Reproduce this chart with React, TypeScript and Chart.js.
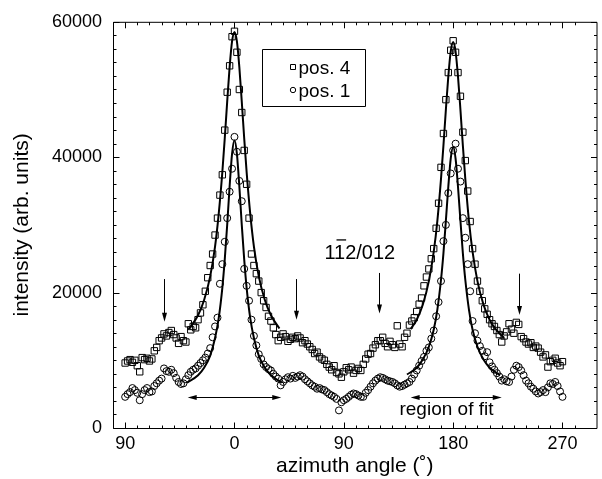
import React, { useEffect, useRef } from "react";
import { Chart, registerables } from "chart.js";

Chart.register(...registerables);

// ---------- data ----------
const seriesLabels = ["pos. 4", "pos. 1"];

const angles = [
  -90, -88, -86, -84, -82, -80, -78, -76, -74, -72,
  -70, -68, -66, -64, -62, -60, -58, -56, -54, -52,
  -50, -48, -46, -44, -42, -40, -38, -36, -34, -32,
  -30, -28, -26, -24, -22, -20, -18, -16, -14, -12,
  -10, -8, -6, -4, -2, 0, 2, 4, 6, 8,
  10, 12, 14, 16, 18, 20, 22, 24, 26, 28,
  30, 32, 34, 36, 38, 40, 42, 44, 46, 48,
  50, 52, 54, 56, 58, 60, 62, 64, 66, 68,
  70, 72, 74, 76, 78, 80, 82, 84, 86, 88,
  90, 92, 94, 96, 98, 100, 102, 104, 106, 108,
  110, 112, 114, 116, 118, 120, 122, 124, 126, 128,
  130, 132, 134, 136, 138, 140, 142, 144, 146, 148,
  150, 152, 154, 156, 158, 160, 162, 164, 166, 168,
  170, 172, 174, 176, 178, 180, 182, 184, 186, 188,
  190, 192, 194, 196, 198, 200, 202, 204, 206, 208,
  210, 212, 214, 216, 218, 220, 222, 224, 226, 228,
  230, 232, 234, 236, 238, 240, 242, 244, 246, 248,
  250, 252, 254, 256, 258, 260, 262, 264, 266, 268,
  270,
];

const pos4Values = [
  9600, 9900, 10100, 9700, 10000, 9200, 8300, 10400, 10100, 10300,
  9900, 10200, 11400, 11900, 12900, 13300, 13900, 13600, 14100, 14400,
  13800, 13300, 12500, 13500, 12900, 12700, 15400, 14500, 15000, 14800,
  16000, 17000, 18200, 20200, 22200, 24000, 25700, 28500, 31000, 34400,
  37400, 44000, 49600, 53500, 57800, 58600, 55500, 50000, 46600, 41000,
  36000, 31000, 25700, 24000, 22800, 21700, 20000, 18800, 17800, 16500,
  15800, 14800, 13800, 12900, 13400, 13900, 13500, 12800, 13100, 13400,
  13200, 13600, 13300, 12600, 12900, 12400, 12000, 11600, 11000, 11200,
  10500, 10200, 10000, 9400, 9000, 8600, 9200, 8200, 8000, 7500,
  8300, 8900, 8600, 9000, 8100, 8500, 8800, 8500, 9400, 10200,
  10900, 11000, 11800, 12300, 12900, 12900, 13400, 12500, 12000, 12800,
  12300, 11900, 15100, 12400, 12000, 13400, 14000, 15200, 15800, 16300,
  17200, 18300, 19200, 21000, 22300, 23500, 25000, 26500, 29500, 33200,
  38500, 43500, 48500, 52500, 55800, 57200, 55500, 52500, 49000, 43700,
  39500, 35000, 30500, 26500, 24200, 21700, 20200, 18800, 17600, 16800,
  16000, 15400, 15000, 14400, 13800, 12700, 13600, 14200, 15400, 14600,
  14000, 15600, 15300, 13500, 13200, 12700, 12400, 12600, 11900, 12100,
  11800, 11200, 10500, 10800, 9000, 9800, 10000, 10300, 9600, 9200,
  9800,
];

const pos1Values = [
  4600, 5000, 5300, 5900, 5600, 5200, 4100, 5000, 5600, 5900,
  5300, 5400, 6200, 6600, 7000, 7300, 8800, 8400, 8300, 8600,
  8100, 7400, 6800, 6500, 6600, 7200, 7800, 8300, 8600, 8800,
  9200, 9600, 10000, 10400, 11000, 11800, 13400, 15000, 16300, 21300,
  24200, 27500, 31000, 34900, 38300, 43000, 40800, 36500, 33500, 23500,
  21000, 18800, 16000, 13600, 12200, 10900, 10200, 9400, 9000, 8700,
  8500, 8000, 7600, 7300, 6300, 6800, 7200, 7500, 7300, 7700,
  7400, 7600, 7800, 7600, 7200, 6900, 6600, 6300, 6100, 5800,
  5900, 5700, 5600, 5300, 5000, 4800, 4600, 4300, 2600, 3800,
  4100, 4300, 4600, 4900, 5100, 5000, 4800, 4600, 4600, 5200,
  5600, 6100, 6600, 7000, 7300, 7500, 7400, 7200, 7000, 6900,
  6800, 6600, 6300, 6100, 6200, 6400, 6600, 6800, 7300, 7900,
  8500, 9200, 9900, 10500, 11400, 11900, 13200, 14400, 16500, 18600,
  21700, 27600, 30000, 34700, 37600, 41000, 42000, 38300, 36400, 31000,
  28100, 24200, 20200, 15800, 14000, 12900, 12100, 11400, 10600, 11200,
  9700, 9100, 8600, 8100, 7600, 7000, 7200, 6900, 6800, 7600,
  8600, 9200, 9000, 8500, 7800, 7000, 6600, 6100, 5800, 5400,
  5100, 5300, 5600, 5300, 6000, 6600, 6500, 6800, 6200, 5400,
  4600,
];

// fitted curves
const fit4Peak1Angles = [-38, -30, -25, -20, -16, -13, -10, -8, -6, -4, -2, 0, 2, 4, 6, 8, 10, 13, 16, 20, 25, 30, 37];
const fit4Peak1Values = [14500, 16650, 18900, 22400, 26800, 31600, 37800, 42800, 48200, 53300, 57100, 58500, 57100, 53300, 48200, 42800, 37800, 31600, 26800, 22400, 18900, 16650, 14700];

const fit1Peak1Angles = [-39, -30, -25, -20, -16, -13, -10, -8, -6, -4, -2, 0, 2, 4, 6, 8, 10, 13, 16, 20, 25, 30, 39];
const fit1Peak1Values = [6700, 7800, 8900, 10700, 13300, 16200, 20700, 24900, 30000, 35700, 40500, 42500, 40500, 35700, 30000, 24900, 20700, 16200, 13300, 10700, 8900, 7800, 6700];

const fit4Peak2Angles = [145, 150, 155, 160, 164, 167, 170, 172, 174, 176, 178, 180, 182, 184, 186, 188, 190, 193, 196, 200, 205, 210, 215, 222];
const fit4Peak2Values = [14600, 16000, 18200, 21700, 26000, 30600, 36800, 41700, 47000, 51900, 55600, 57000, 55600, 51900, 47000, 41700, 36800, 30600, 26000, 21700, 18200, 16000, 14600, 13300];

const fit1Peak2Angles = [142, 150, 155, 160, 164, 167, 170, 172, 174, 176, 178, 180, 182, 184, 186, 188, 190, 193, 196, 200, 205, 210, 218.5];
const fit1Peak2Values = [7900, 8900, 10100, 12000, 14500, 17500, 21900, 25800, 30600, 35600, 39800, 41500, 39800, 35600, 30600, 25800, 21900, 17500, 14500, 12000, 10100, 8900, 7800];

// annotations (data coordinates)
const arrowAngles = [-58, 51, 119, 234];
const arrowTops = [22000, 22000, 22900, 22800];
const arrowTips = [15700, 16000, 16900, 16700];

const fitRegionStarts = [-38.5, 145];
const fitRegionEnds = [38.5, 220];
const fitRegionLevel = 4600;

const regionLabel = "region of fit";
const regionLabelAngle = 174.5;
const regionLabelValue = 1900;

const reflexParts = ["1", "1", "2/012"]; // second "1" carries an overbar
const reflexAngle = 74;
const reflexValue = 24900;

// axis range / ticks
const xMin = -100;
const xMax = 298;
const yMin = 0;
const yMax = 60000;

const FONT = "'Liberation Sans', Arial, Helvetica, sans-serif";

function pts(xs: number[], ys: number[]) {
  return xs.map((x, i) => ({ x, y: ys[i] }));
}

const decoPlugin = {
  id: "deco",
  afterDatasetsDraw(chart: any) {
    const { ctx, chartArea: a, scales } = chart;
    const x = scales.x;
    const y = scales.y;
    ctx.save();
    ctx.strokeStyle = "#000";
    ctx.fillStyle = "#000";
    ctx.lineWidth = 1;

    const L = a.left + 0.5;
    const R = a.right + 0.5;
    const T = a.top + 0.5;
    const B = a.bottom + 0.5;

    // frame
    ctx.beginPath();
    ctx.rect(L, T, R - L, B - T);
    ctx.stroke();

    // inward ticks
    ctx.beginPath();
    x.ticks.forEach((t: any) => {
      const v = t.value;
      if (Math.abs(v % 10) > 1e-9) return;
      const px = Math.round(x.getPixelForValue(v)) + 0.5;
      const len = Math.abs(v % 90) < 1e-9 ? 6 : 3;
      ctx.moveTo(px, B);
      ctx.lineTo(px, B - len);
      ctx.moveTo(px, T);
      ctx.lineTo(px, T + len);
    });
    y.ticks.forEach((t: any) => {
      const v = t.value;
      if (Math.abs(v % 2000) > 1e-9) return;
      const py = Math.round(y.getPixelForValue(v)) + 0.5;
      const len = Math.abs(v % 20000) < 1e-9 ? 6 : 3;
      ctx.moveTo(L, py);
      ctx.lineTo(L + len, py);
      ctx.moveTo(R, py);
      ctx.lineTo(R - len, py);
    });
    ctx.stroke();

    // down arrows
    const head = 9;
    const hw = 2.5;
    arrowAngles.forEach((ang, i) => {
      const px = Math.round(x.getPixelForValue(ang)) + 0.5;
      const y1 = y.getPixelForValue(arrowTops[i]);
      const y2 = y.getPixelForValue(arrowTips[i]);
      ctx.beginPath();
      ctx.moveTo(px, y1);
      ctx.lineTo(px, y2 - head + 1);
      ctx.stroke();
      ctx.beginPath();
      ctx.moveTo(px, y2);
      ctx.lineTo(px - hw, y2 - head);
      ctx.lineTo(px + hw, y2 - head);
      ctx.closePath();
      ctx.fill();
    });

    // region-of-fit double arrows
    const ly = Math.round(y.getPixelForValue(fitRegionLevel)) + 0.5;
    fitRegionStarts.forEach((s, i) => {
      const x1 = x.getPixelForValue(s);
      const x2 = x.getPixelForValue(fitRegionEnds[i]);
      ctx.beginPath();
      ctx.moveTo(x1 + head - 1, ly);
      ctx.lineTo(x2 - head + 1, ly);
      ctx.stroke();
      ctx.beginPath();
      ctx.moveTo(x1, ly);
      ctx.lineTo(x1 + head, ly - hw);
      ctx.lineTo(x1 + head, ly + hw);
      ctx.closePath();
      ctx.fill();
      ctx.beginPath();
      ctx.moveTo(x2, ly);
      ctx.lineTo(x2 - head, ly - hw);
      ctx.lineTo(x2 - head, ly + hw);
      ctx.closePath();
      ctx.fill();
    });

    // texts
    ctx.font = `19px ${FONT}`;
    ctx.textAlign = "center";
    ctx.textBaseline = "alphabetic";
    ctx.fillText(regionLabel, x.getPixelForValue(regionLabelAngle), y.getPixelForValue(regionLabelValue));

    ctx.font = `20px ${FONT}`;
    ctx.textAlign = "left";
    const rx = x.getPixelForValue(reflexAngle);
    const ry = y.getPixelForValue(reflexValue);
    const w0 = ctx.measureText(reflexParts[0]).width;
    const w1 = ctx.measureText(reflexParts[1]).width;
    ctx.fillText(reflexParts.join(""), rx, ry);
    ctx.beginPath();
    ctx.lineWidth = 1.3;
    ctx.moveTo(rx + w0 + 1, ry - 19.5);
    ctx.lineTo(rx + w0 + w1 - 0.5, ry - 19.5);
    ctx.stroke();
    ctx.lineWidth = 1;

    // legend box
    ctx.beginPath();
    ctx.rect(262.5, 49.5, 103, 57);
    ctx.stroke();
    ctx.beginPath();
    ctx.rect(290.5, 64.5, 5, 5);
    ctx.stroke();
    ctx.beginPath();
    ctx.arc(293, 90, 2.7, 0, Math.PI * 2);
    ctx.stroke();
    ctx.font = `19px ${FONT}`;
    ctx.textAlign = "left";
    ctx.fillText(seriesLabels[0], 298.5, 73.5);
    ctx.fillText(seriesLabels[1], 298.5, 97);

    ctx.restore();
  },
};

export default function App() {
  const ref = useRef<HTMLCanvasElement | null>(null);

  useEffect(() => {
    document.body.style.margin = "0";
    if (!ref.current) return;
    Chart.defaults.font.family = FONT;
    Chart.defaults.color = "#000";

    const fitStyle = {
      showLine: true,
      pointRadius: 0,
      borderColor: "#000",
      borderWidth: 2,
      cubicInterpolationMode: "monotone" as const,
      order: 0,
      fill: false,
    };

    const chart = new Chart(ref.current, {
      type: "scatter",
      data: {
        datasets: [
          { ...fitStyle, label: "fit4a", data: pts(fit4Peak1Angles, fit4Peak1Values) },
          { ...fitStyle, label: "fit1a", data: pts(fit1Peak1Angles, fit1Peak1Values) },
          { ...fitStyle, label: "fit4b", data: pts(fit4Peak2Angles, fit4Peak2Values) },
          { ...fitStyle, label: "fit1b", data: pts(fit1Peak2Angles, fit1Peak2Values) },
          {
            label: seriesLabels[0],
            data: pts(angles, pos4Values),
            pointStyle: "rect",
            pointRadius: 4.5,
            pointBorderWidth: 1,
            pointBorderColor: "#000",
            pointBackgroundColor: "rgba(255,255,255,0)",
            order: 2,
          },
          {
            label: seriesLabels[1],
            data: pts(angles, pos1Values),
            pointStyle: "circle",
            pointRadius: 3.5,
            pointBorderWidth: 1,
            pointBorderColor: "#000",
            pointBackgroundColor: "rgba(255,255,255,0)",
            order: 2,
          },
        ],
      },
      options: {
        responsive: false,
        animation: false,
        devicePixelRatio: 1,
        layout: { padding: { top: 19, right: 1, left: 0, bottom: 0 } },
        plugins: { legend: { display: false }, tooltip: { enabled: false } },
        scales: {
          x: {
            type: "linear",
            min: xMin,
            max: xMax,
            grid: { display: false, drawTicks: false },
            border: { display: false },
            ticks: {
              stepSize: 10,
              autoSkip: false,
              maxRotation: 0,
              minRotation: 0,
              padding: 5,
              color: "#000",
              font: { size: 18, family: FONT },
              callback: (v: any) => (Math.abs(Number(v) % 90) < 1e-9 ? String(Math.abs(Number(v))) : ""),
            },
            title: {
              display: true,
              text: "azimuth angle (˚)",
              color: "#000",
              font: { size: 21, family: FONT },
              padding: { top: 0, bottom: 0 },
            },
            afterFit: (s: any) => {
              s.height = 51;
            },
          },
          y: {
            type: "linear",
            min: yMin,
            max: yMax,
            grid: { display: false, drawTicks: false },
            border: { display: false },
            ticks: {
              stepSize: 2000,
              autoSkip: false,
              padding: 11,
              color: "#000",
              font: { size: 18, family: FONT },
              callback: (v: any) => (Math.abs(Number(v) % 20000) < 1e-9 ? String(v) : ""),
            },
            title: {
              display: true,
              text: "intensity (arb. units)",
              color: "#000",
              font: { size: 21, family: FONT },
              padding: { top: 10, bottom: 0 },
            },
            afterFit: (s: any) => {
              s.width = 113;
            },
          },
        },
      },
      plugins: [decoPlugin],
    });

    return () => chart.destroy();
  }, []);

  return (
    <div style={{ width: 602, height: 479 }}>
      <canvas ref={ref} width={602} height={479} style={{ display: "block" }} />
    </div>
  );
}
